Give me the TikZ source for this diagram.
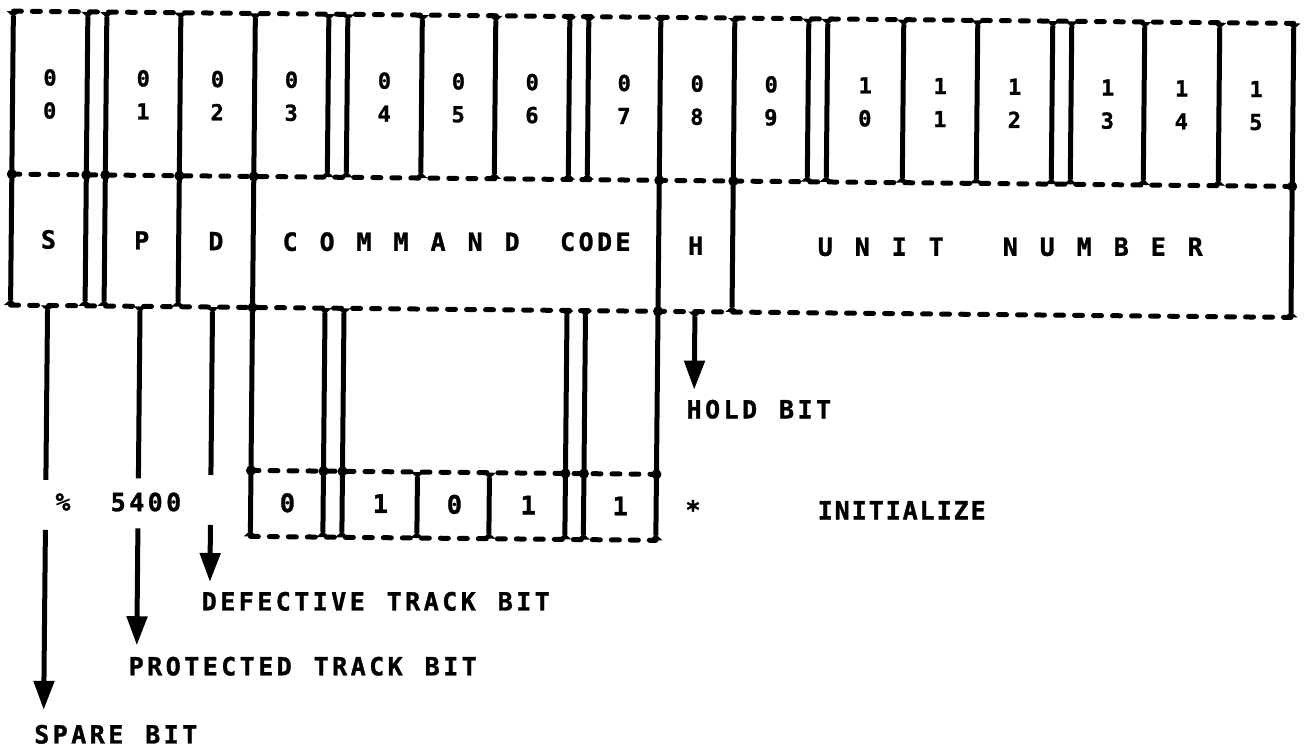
\documentclass[tikz,border=0pt]{standalone}
\usepackage{fontspec}
\usetikzlibrary{arrows.meta}
\newfontfamily\plotfont{DejaVu Sans Mono Bold}[FakeBold=1.2]
\newlength\pitch
\setlength\pitch{18.5pt}
\makeatletter
\newcommand\spaced[1]{\@tfor\spch:=#1\do{\makebox[\pitch][c]{\spch}}}
\makeatother
\begin{document}
\begin{tikzpicture}[x=1pt,y=-1pt,
  dline/.style={line width=5pt,dash pattern=on 8pt off 11pt,line cap=round},
  vline/.style={line width=5pt,{Triangle[reversed,width=13pt,length=6pt]}-{Triangle[reversed,width=13pt,length=6pt]}},
  stub/.style={line width=5pt,{Triangle[reversed,width=13pt,length=6pt]}-},
  arr/.style={line width=5pt,-{Triangle[width=20pt,length=29pt]}},
  harr/.style={line width=5pt,{Triangle[reversed,width=13pt,length=6pt]}-{Triangle[width=20pt,length=29pt]}},
  dig/.style={inner sep=0pt,font=\plotfont\fontsize{22}{26}\selectfont},
  lab/.style={inner sep=0pt,font=\plotfont\fontsize{25}{29}\selectfont},
  bdig/.style={inner sep=0pt,font=\plotfont\fontsize{25.5}{29}\selectfont},
]
\useasboundingbox (0,0) rectangle (1305,748);
\begin{scope}[rotate=-0.55]
% dashed horizontal lines
\draw[dline] (13.5,11) -- (1294,11);
\draw[dline] (13.5,174) -- (1294,174);
\draw[dline] (13.5,305) -- (1294,305);
\draw[dline] (255.5,468) -- (661,468);
\draw[dline] (255.5,534) -- (661,534);
% vertical lines
\foreach \x in {13.5,88,107,181,735,1294} \draw[vline] (\x,11) -- (\x,305);
\foreach \x in {255.5,661} \draw[vline] (\x,11) -- (\x,534);
\foreach \x in {329,348,422.5,496,570,589,809,828,904,978,1053,1072,1145,1220} \draw[vline] (\x,11) -- (\x,174);
\foreach \x in {328,347,570,588.5} \draw[vline] (\x,305) -- (\x,534);
\foreach \x in {422,494} \draw[vline] (\x,468) -- (\x,534);
% junction blobs
\foreach \x in {13.5,88,107,181,255.5,661,735,1294} \fill (\x,174) circle (5);
\foreach \x in {255.5,661} \fill (\x,305) circle (5);
\foreach \x in {255.5,328,347,570,588.5,661} \fill (\x,468) circle (5);
% bit numbers
\foreach \i/\cx/\a/\b in {0/50.75/0/0,1/144/0/1,2/218.25/0/2,3/292.25/0/3,4/385.25/0/4,5/459.25/0/5,6/533/0/6,7/625/0/7,8/698/0/8,9/772/0/9,10/866/1/0,11/941/1/1,12/1015.5/1/2,13/1108.5/1/3,14/1182.5/1/4,15/1257/1/5}{
  \node[dig] (bitA\i) at (\cx,77) {\a};
  \node[dig] (bitB\i) at (\cx,110) {\b};
}
% field names
\node[lab] (fS) at (50.75,239) {S};
\node[lab] (fP) at (144,239) {P};
\node[lab] (fD) at (218.25,239) {D};
\node[lab,anchor=west] (fCmd) at (283,239) {\spaced{C~O~M~M~A~N~D~~CODE}};
\node[lab] (fH) at (698,239) {H};
\node[lab,anchor=west] (fUnit) at (818.2,239) {\spaced{U~N~I~T~~~N~U~M~B~E~R}};
% lower values
\node[lab] (pct) at (67.8,501.4) {\%};
\node[lab] (oct) at (150.8,500.6) {\spaced{5400}};
\foreach \i/\cx/\v in {3/292.25/0,4/385.25/1,5/459.25/0,6/533/1,7/625/1}
  \node[bdig] (cc\i) at (\cx,500) {\v};
\node[lab,anchor=base] (star) at (698,512) {*};
\node[lab,anchor=west] (lInit) at (821.4,502.4) {\setlength\pitch{17pt}\spaced{INITIALIZE}};
% labels
\node[lab,anchor=west] (lHold) at (688.6,402.7) {\spaced{HOLD~BIT}};
\node[lab,anchor=west] (lDef) at (205.6,599.4) {\spaced{DEFECTIVE~TRACK~BIT}};
\node[lab,anchor=west] (lProt) at (133.2,665) {\spaced{PROTECTED~TRACK~BIT}};
\node[lab,anchor=west] (lSpare) at (39.4,734) {\spaced{SPARE~BIT}};
% arrow coordinates
\coordinate (sA) at (50.5,305);  \coordinate (sB) at (50.5,479.5);
\coordinate (sC) at (50.5,529.5); \coordinate (sD) at (50.5,709.5);
\coordinate (pA) at (143,305);   \coordinate (pB) at (143,477);
\coordinate (pC) at (143,527);   \coordinate (pD) at (143,644);
\coordinate (dA) at (215.5,305); \coordinate (dB) at (215.5,473);
\coordinate (dC) at (215.5,523); \coordinate (dD) at (215.5,580);
\coordinate (hA) at (698,305);   \coordinate (hB) at (698,383);
\draw[stub] (sA) -- (sB);
\draw[arr] (sC) -- (sD);
\draw[stub] (pA) -- (pB);
\draw[arr] (pC) -- (pD);
\draw[stub] (dA) -- (dB);
\draw[arr] (dC) -- (dD);
\draw[harr] (hA) -- (hB);
\end{scope}
\end{tikzpicture}
\end{document}
